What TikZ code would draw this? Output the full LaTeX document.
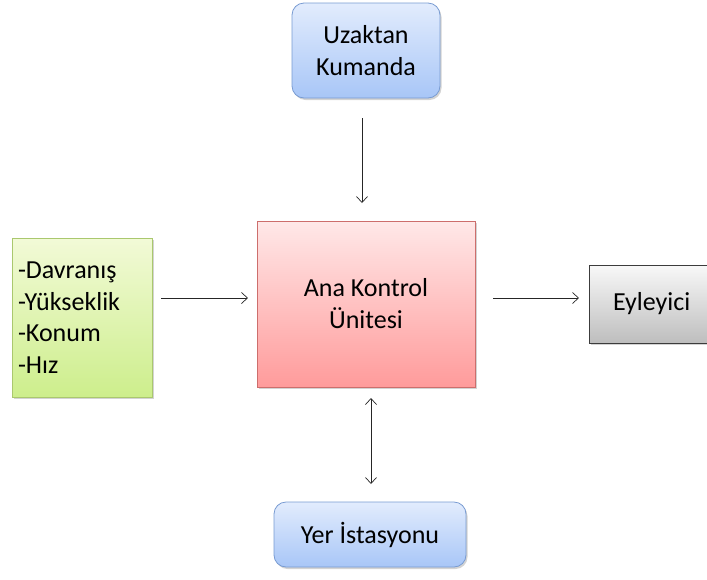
\documentclass[tikz,border=0pt]{standalone}
\usepackage{fontspec}
\setmainfont{Carlito}
\usetikzlibrary{arrows.meta,shadows}
\begin{document}
\begin{tikzpicture}[x=1pt,y=-1pt,
  txt/.style={font=\fontsize{26}{32}\selectfont, align=center, text=black},
  bluebox/.style={txt, rounded corners=12pt, draw={rgb,255:red,120;green,155;blue,210}, line width=0.8pt,
     top color={rgb,255:red,226;green,236;blue,253}, bottom color={rgb,255:red,168;green,198;blue,247},
     drop shadow={shadow xshift=1.5pt, shadow yshift=-2pt, opacity=0.35}},
  redbox/.style={txt, draw={rgb,255:red,205;green,110;blue,108}, line width=0.8pt,
     top color={rgb,255:red,255;green,232;blue,232}, bottom color={rgb,255:red,255;green,155;blue,155},
     drop shadow={shadow xshift=1.5pt, shadow yshift=-2pt, opacity=0.35}},
  greenbox/.style={txt, align=left, draw={rgb,255:red,170;green,200;blue,110}, line width=0.8pt,
     top color={rgb,255:red,242;green,250;blue,215}, bottom color={rgb,255:red,205;green,238;blue,140},
     drop shadow={shadow xshift=1.5pt, shadow yshift=-2pt, opacity=0.35}},
  graybox/.style={txt, draw={rgb,255:red,60;green,60;blue,60}, line width=0.8pt,
     top color={rgb,255:red,248;green,248;blue,248}, bottom color={rgb,255:red,190;green,190;blue,190},
     drop shadow={shadow xshift=1.5pt, shadow yshift=-2pt, opacity=0.35}},
  conn/.style={draw=black!85, line width=0.7pt, -{Straight Barb[length=6pt,width=11pt]}},
  dconn/.style={draw=black!85, line width=0.7pt, {Straight Barb[length=6pt,width=11pt]}-{Straight Barb[length=6pt,width=11pt]}}
]
\useasboundingbox (0,0) rectangle (707,579);
\clip (0,0) rectangle (707,579);

\node[bluebox, minimum width=148pt, minimum height=95pt] (uk) at (366,50.5) {Uzaktan\\Kumanda};
\node[redbox, minimum width=218pt, minimum height=166pt] (ana) at (366,304) {Ana Kontrol\\Ünitesi};
\node[greenbox, minimum width=140pt, minimum height=159pt, text width=128pt, inner xsep=6pt, font=\fontsize{26}{31.5}\selectfont] (sens) at (82,317.5) {-Davranış\\-Yükseklik\\-Konum\\-Hız};
\node[graybox, minimum width=124pt, minimum height=78pt, text width=110pt, align=left, inner sep=0pt] (ey) at (651,304) {\hspace{17pt}Eyleyici};
\node[bluebox, minimum width=192pt, minimum height=65pt] (yer) at (370,534.5) {Yer İstasyonu};

\coordinate (a1s) at (362,118);
\coordinate (a1e) at (362,203);
\draw[conn] (a1s) -- (a1e);
\coordinate (a2s) at (161,298);
\coordinate (a2e) at (248,298);
\draw[conn] (a2s) -- (a2e);
\coordinate (a3s) at (493,298);
\coordinate (a3e) at (579,298);
\draw[conn] (a3s) -- (a3e);
\coordinate (a4s) at (371,398);
\coordinate (a4e) at (371,484);
\draw[dconn] (a4s) -- (a4e);
\end{tikzpicture}
\end{document}
